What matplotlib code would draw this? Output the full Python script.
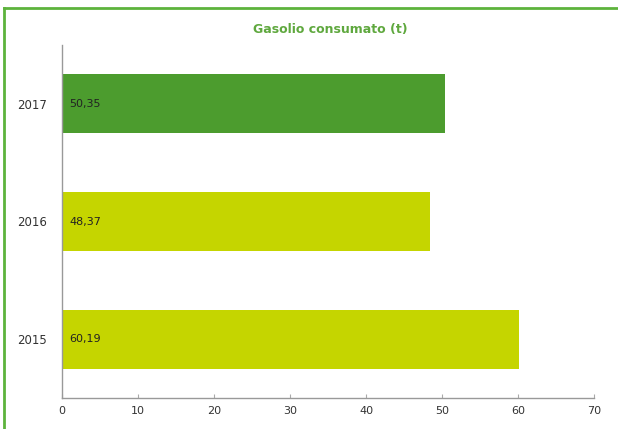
import matplotlib
matplotlib.use("Agg")
import matplotlib.pyplot as plt
from matplotlib.lines import Line2D

years = ["2015", "2016", "2017"]
valori = [60.19, 48.37, 50.35]
etichette = ["60,19", "48,37", "50,35"]
colori = ["#c5d500", "#c5d500", "#4c9c2e"]
xticks = [0, 10, 20, 30, 40, 50, 60, 70]

fig = plt.figure(figsize=(6.18, 4.29), dpi=100)
ax = fig.add_axes([62 / 618, 1 - 398 / 429, 532 / 618, 353 / 429])

pos = range(len(years))
ax.barh(pos, valori, height=0.5, color=colori)
for y, lab in zip(pos, etichette):
    ax.text(1.0, y, lab, ha="left", va="center", fontsize=8, color="#222222")

ax.set_xlim(0, 70)
ax.set_ylim(-0.5, 2.5)
ax.set_xticks(xticks)
ax.set_yticks(list(pos))
ax.set_yticklabels(years)
ax.tick_params(axis="y", length=0, pad=11, labelsize=8.5, colors="#333333")
ax.tick_params(axis="x", direction="in", length=3, width=0.8, color="#aaaaaa",
               labelsize=8, labelcolor="#333333", pad=6)
for s in ("top", "right"):
    ax.spines[s].set_visible(False)
for s in ("left", "bottom"):
    ax.spines[s].set_color("#999999")
    ax.spines[s].set_linewidth(1.0)

ax.set_title("Gasolio consumato (t)", fontsize=9, fontweight="bold",
             color="#5fa83e", x=(330 - 62) / 532, y=1.0, pad=8.5)

# cornice verde (solo lati superiore e sinistro)
fig.add_artist(Line2D([4 / 618, 1.0], [1 - 8 / 429, 1 - 8 / 429],
                      transform=fig.transFigure, color="#5db33c", linewidth=2))
fig.add_artist(Line2D([4 / 618, 4 / 618], [0, 1 - 8 / 429],
                      transform=fig.transFigure, color="#5db33c", linewidth=2))

fig.savefig("out.png", dpi=100)
